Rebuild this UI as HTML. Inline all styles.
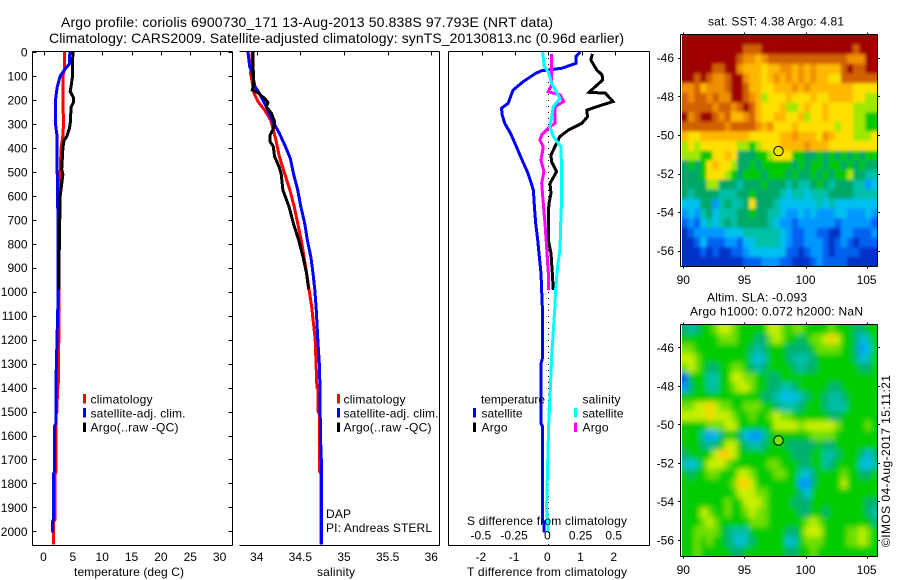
<!DOCTYPE html>
<html lang="en">
<head>
<meta charset="utf-8">
<title>Argo profile chart</title>
<style>
html,body{margin:0;padding:0;background:#fff;}
svg{display:block;}
text{font-family:"Liberation Sans",sans-serif;font-size:12px;fill:#000;}
.title{font-size:14px;}
</style>
</head>
<body>
<svg id="chart" xmlns="http://www.w3.org/2000/svg" width="900" height="580" viewBox="0 0 900 580">
  <defs>
    <clipPath id="clip-sst"><rect x="682" y="35" width="195.5" height="231.5"/></clipPath>
    <clipPath id="clip-sla"><rect x="682" y="325" width="195.5" height="231.5"/></clipPath>
    <filter id="soft-sst" filterUnits="userSpaceOnUse" x="660" y="15" width="240" height="270"><feGaussianBlur stdDeviation="1.5"/></filter>
    <filter id="soft-sla" filterUnits="userSpaceOnUse" x="660" y="305" width="240" height="270"><feGaussianBlur stdDeviation="3"/></filter>
  </defs>
  <rect x="0" y="0" width="900" height="580" fill="#fff"/>
  <g id="marks"></g>
  <g id="axes"></g>
  <g>
    <text class="title" x="61" y="27" textLength="492" lengthAdjust="spacing">Argo profile: coriolis 6900730_171 13-Aug-2013 50.838S 97.793E (NRT data)</text>
    <text class="title" x="49" y="43" textLength="575" lengthAdjust="spacing">Climatology: CARS2009. Satellite-adjusted climatology: synTS_20130813.nc (0.96d earlier)</text>
  </g>
  <g>
    <rect x="83" y="394" width="3" height="9.5" fill="#ff0000"/>
    <rect x="83" y="408" width="3" height="9.5" fill="#0000ff"/>
    <rect x="83" y="422.5" width="3" height="9.5" fill="#000"/>
    <text x="90.5" y="403.5" textLength="62" lengthAdjust="spacing">climatology</text>
    <text x="90.5" y="417.5" textLength="95" lengthAdjust="spacing">satellite-adj. clim.</text>
    <text x="90.5" y="431.5" textLength="88" lengthAdjust="spacing">Argo(..raw -QC)</text>
  </g>
  <g>
    <rect x="337" y="394" width="3" height="9.5" fill="#ff0000"/>
    <rect x="337" y="408" width="3" height="9.5" fill="#0000ff"/>
    <rect x="337" y="422.5" width="3" height="9.5" fill="#000"/>
    <text x="343.5" y="403.5" textLength="62" lengthAdjust="spacing">climatology</text>
    <text x="343.5" y="417.5" textLength="95" lengthAdjust="spacing">satellite-adj. clim.</text>
    <text x="343.5" y="431.5" textLength="88" lengthAdjust="spacing">Argo(..raw -QC)</text>
    <text x="326" y="518" textLength="25" lengthAdjust="spacing">DAP</text>
    <text x="326" y="532" textLength="106" lengthAdjust="spacing">PI: Andreas STERL</text>
  </g>
  <g>
    <text x="481" y="403.5" textLength="64" lengthAdjust="spacing">temperature</text>
    <rect x="473" y="408" width="3" height="9.5" fill="#0000ff"/>
    <rect x="473" y="422.5" width="3" height="9.5" fill="#000"/>
    <text x="481.5" y="417.5" textLength="41" lengthAdjust="spacing">satellite</text>
    <text x="481.5" y="431.5" textLength="26" lengthAdjust="spacing">Argo</text>
    <text x="582.5" y="403.5" textLength="38" lengthAdjust="spacing">salinity</text>
    <rect x="574" y="408" width="3" height="9.5" fill="#00ffff"/>
    <rect x="574" y="422.5" width="3" height="9.5" fill="#ff00ff"/>
    <text x="582.5" y="417.5" textLength="41" lengthAdjust="spacing">satellite</text>
    <text x="582.5" y="431.5" textLength="26" lengthAdjust="spacing">Argo</text>
  </g>
  <text x="74" y="576" textLength="110" lengthAdjust="spacing">temperature (deg C)</text>
  <text x="317" y="576" textLength="38" lengthAdjust="spacing">salinity</text>
  <text x="467" y="576" textLength="160" lengthAdjust="spacing">T difference from climatology</text>
  <text x="467" y="525" textLength="160" lengthAdjust="spacing">S difference from climatology</text>
  <text x="708" y="25.5" textLength="136" lengthAdjust="spacing">sat. SST: 4.38 Argo: 4.81</text>
  <text x="707" y="301.5" textLength="100" lengthAdjust="spacing">Altim. SLA: -0.093</text>
  <text x="690" y="315.5" textLength="173" lengthAdjust="spacing">Argo h1000: 0.072 h2000: NaN</text>
  <text transform="translate(890,547) rotate(-90)" x="0" y="0" textLength="172" lengthAdjust="spacing">©IMOS 04-Aug-2017 15:11:21</text>
</svg>
<script>
// ---- Axis tick values ----
const depthTicks = [0,100,200,300,400,500,600,700,800,900,1000,1100,1200,1300,1400,1500,1600,1700,1800,1900,2000];
const tempTicks = [0,5,10,15,20,25,30];
const salTicks = [34,34.5,35,35.5,36];
const salTickLabels = ['34','34.5','35','35.5','36'];
const tDiffTicks = [-2,-1,0,1,2];
const sDiffTicks = [-0.5,-0.25,0,0.25,0.5];
const sDiffTickLabels = ['-0.5','-0.25','0','0.25','0.5'];
const lonTicks = [90,95,100,105];
const latTicks = [-46,-48,-50,-52,-54,-56];

// ---- Temperature profiles ----
const tempClimDepth = [0,70,100,200,300,350,400,500,600,800,1000,1200,1400,1410,1500,1510,1750,1760,1950,1960,2055];
const tempClimValue = [3.6,3.6,3.3,3.3,3.4,3.3,3.0,2.85,2.6,2.6,2.6,2.6,2.5,2.35,2.33,2.15,2.15,2.0,2.0,1.7,1.7];
const tempSatDepth = [0,50,70,100,150,200,300,350,500,520,600,800,1000,1200,1400,1550,1560,1750,1760,1950,1960,2005];
const tempSatValue = [4.5,4.4,3.7,2.85,2.3,2.05,2.05,2.3,2.3,2.4,2.4,2.5,2.5,2.3,2.1,2.1,1.9,1.9,1.7,1.7,1.5,1.5];
const tempArgoDepth = [0,100,150,165,190,210,230,300,320,350,370,400,490,510,600,800,990];
const tempArgoValue = [5.0,4.95,4.65,4.55,5.1,5.1,4.7,4.55,4.4,4.0,3.5,3.3,3.1,3.3,2.85,2.7,2.64];

// ---- Salinity profiles ----
const salClimDepth = [0,89,172,207,242,284,367,437,506,576,645,715,784,895,1063,1200,1400,1410,1500,1510,1600,1750,1760,2055];
const salClimValue = [33.95,33.93,33.97,34.015,34.09,34.16,34.22,34.26,34.32,34.38,34.43,34.47,34.51,34.56,34.63,34.67,34.69,34.705,34.705,34.72,34.72,34.72,34.737,34.737];
const salSatDepth = [0,61,89,145,172,228,284,339,395,444,506,576,645,715,784,854,923,993,1063,1200,1300,1400,1600,1700,2055];
const salSatValue = [33.9,33.92,33.95,33.98,34.03,34.11,34.175,34.26,34.33,34.385,34.42,34.47,34.505,34.55,34.58,34.62,34.645,34.665,34.68,34.7,34.717,34.725,34.73,34.74,34.74];
const salArgoDepth = [0,75,89,145,159,170,194,211,228,256,291,319,346,374,395,437,478,506,576,645,715,784,854,923,990];
const salArgoValue = [33.96,33.96,33.965,33.96,33.95,34.015,34.09,34.13,34.11,34.17,34.205,34.19,34.155,34.155,34.19,34.205,34.255,34.28,34.3,34.37,34.42,34.48,34.53,34.57,34.595];

// ---- Differences from climatology ----
const dTSatDepth = [0,19,47,68,78,89,124,159,214,235,263,298,339,395,451,506,576,645,715,784,854,923,1063,1280,1300,1550,1560,1950,1960,2005];
const dTSatValue = [0.96,0.83,0.83,0.4,-0.2,-0.38,-0.76,-1.06,-1.21,-1.41,-1.39,-1.31,-1.14,-0.96,-0.79,-0.61,-0.45,-0.42,-0.38,-0.32,-0.27,-0.22,-0.18,-0.18,-0.22,-0.22,-0.18,-0.18,-0.14,-0.12];
const dTArgoDepth = [8,33,75,96,117,145,168,172,207,221,242,270,298,325,353,395,430,458,499,548,590,631,673,784,840,923,993];
const dTArgoValue = [1.33,1.28,1.46,1.62,1.64,1.41,1.23,1.72,1.95,1.62,1.16,1.18,1.01,0.61,0.35,0.2,0.08,0.1,0.25,0.05,0.08,0.02,0,0,0.08,0.12,0.15];
const dSArgoDepth = [8,103,138,166,179,207,228,298,315,346,367,395,451,499,548,617,715,812,923,993];
const dSArgoValue = [0.025,0.025,0.025,0,0.09,0.115,0.05,0.05,0.005,-0.05,-0.063,-0.038,-0.055,-0.033,-0.05,-0.04,-0.025,-0.013,0,0];
const dSSatDepth = [0,61,82,131,193,228,312,353,395,506,617,715,826,895,993,1063,1275,1438,1550,1730,1900,2005];
const dSSatValue = [-0.043,-0.03,0,0.025,0.088,0.038,0.013,0.038,0.096,0.1,0.1,0.093,0.088,0.07,0.055,0.05,0.025,0.013,0.003,-0.005,-0.0126,0];

// ---- Argo position ----
const argoLon = [97.793];
const argoLat = [-50.838];

// ---- Map grids (colour level per 0.5 degree cell, rows north to south) ----
const sstGrid = [
[12,12,12,12,12,12,12,12,12,12,12,12,12,12,12,12,12,12,12,12,12,12,12,12,12,12,12,12,12,12,12,12],
[12,12,12,12,12,12,12,12,12,12,11,11,11,12,12,12,12,12,12,12,12,12,12,12,12,12,12,12,11,12,12,12],
[12,12,12,12,12,12,12,12,12,11,10,10,9,10,11,11,11,11,11,11,11,11,11,11,11,11,11,10,10,10,12,12],
[12,12,12,12,12,11,11,12,12,10,9,9,9,8,9,9,10,10,9,10,9,10,9,9,9,9,11,12,11,11,12,12],
[12,12,11,12,11,10,10,11,12,12,10,9,9,8,9,10,9,10,9,10,9,10,9,9,8,8,11,11,11,11,11,11],
[10,10,11,9,10,10,10,11,12,12,11,9,9,8,8,9,9,9,10,9,10,9,9,9,9,9,9,9,8,8,8,8],
[11,10,11,11,10,11,10,10,12,12,11,10,9,7,8,8,8,9,8,8,8,9,8,8,9,9,9,9,8,8,7,7],
[11,11,11,11,11,10,11,11,10,11,12,11,9,8,8,8,9,7,7,8,9,8,8,9,8,8,8,8,7,7,7,7],
[12,10,11,12,12,11,10,11,9,9,10,11,9,8,8,9,9,8,8,9,7,8,8,9,8,8,8,8,7,7,6,6],
[11,11,11,11,11,11,11,10,11,11,11,11,10,9,10,8,8,8,9,8,8,8,8,8,8,7,8,8,7,7,6,6],
[9,8,8,9,9,9,9,9,9,9,9,8,8,8,8,8,9,9,10,9,9,9,8,10,9,8,8,8,7,7,7,8],
[7,8,7,8,8,8,8,8,8,7,7,6,7,8,8,8,9,9,9,9,10,9,9,9,8,8,8,8,8,8,8,8],
[7,7,7,6,6,8,8,9,8,5,5,5,6,6,7,8,8,8,6,6,5,5,6,5,6,5,6,5,6,5,6,6],
[5,6,5,6,8,9,8,8,7,5,5,6,5,6,6,6,6,6,5,6,5,6,6,5,6,6,5,6,5,6,5,5],
[5,5,5,6,8,8,8,7,6,5,6,6,6,5,6,6,6,5,6,5,5,6,5,6,5,6,6,7,5,5,4,4],
[5,5,5,5,7,7,5,5,5,4,5,5,5,6,5,5,5,4,5,4,4,5,6,5,4,5,5,5,4,4,2,3],
[5,4,5,5,5,5,4,4,4,5,5,6,5,5,5,5,4,3,4,4,3,4,4,4,5,5,5,5,4,4,4,4],
[3,3,3,5,5,2,4,5,4,4,5,8,5,5,5,4,3,3,3,3,3,3,4,3,4,3,3,3,3,3,3,3],
[2,3,2,4,5,3,4,4,4,5,5,6,5,5,4,4,3,2,2,3,2,3,2,2,2,3,3,2,2,2,3,2],
[1,2,1,3,4,3,4,5,4,5,5,5,5,5,4,3,2,2,1,2,2,2,2,2,2,1,2,2,2,2,2,1],
[0,1,2,2,2,2,2,3,3,3,4,4,4,4,4,4,3,2,1,1,2,2,1,1,0,0,2,2,1,1,1,2],
[0,0,1,3,1,1,1,2,2,1,3,3,4,4,4,4,3,2,1,1,2,2,2,1,0,1,2,1,0,1,1,1],
[0,0,0,1,0,1,0,0,1,1,2,3,3,3,3,3,3,1,1,0,1,2,2,1,0,1,1,1,1,0,0,0],
[0,0,0,0,0,0,0,0,0,0,1,1,1,2,2,2,1,1,0,0,0,1,2,1,1,1,1,0,0,0,0,0]
];
const slaGrid = [
[5,4,5,6,6,7,8,8,7,6,6,6,6,6,8,8,7,6,7,7,6,6,6,6,7,6,6,6,5,5,6,6],
[6,6,6,6,6,6,7,7,7,6,6,6,5,5,7,8,7,6,6,5,6,7,7,8,9,8,6,6,5,3,4,6],
[7,7,6,6,6,6,6,6,6,6,6,5,4,5,6,6,6,5,5,5,5,6,7,7,7,7,6,6,5,2,3,6],
[8,8,7,6,6,6,6,6,6,6,6,4,3,4,6,6,6,5,4,4,4,5,6,6,6,6,6,6,5,3,4,6],
[7,8,7,6,5,5,6,6,7,7,6,5,4,5,6,6,6,6,5,4,5,5,6,6,6,6,6,6,6,5,5,6],
[1,6,6,6,4,4,6,6,8,8,7,7,6,6,5,5,6,6,6,6,6,6,6,6,6,6,6,6,6,6,6,6],
[2,5,6,6,4,4,6,6,7,8,8,7,6,6,5,5,4,4,5,6,6,6,6,6,5,5,6,6,6,6,6,6],
[6,6,6,6,6,6,6,6,6,6,6,6,6,5,5,4,3,3,3,4,5,6,6,5,4,4,5,6,6,6,6,6],
[7,7,8,8,9,8,7,7,6,6,7,7,7,6,6,5,4,4,4,5,6,6,6,5,4,4,4,6,6,6,6,6],
[8,8,8,8,9,8,8,8,7,6,6,7,6,6,7,8,7,7,6,6,6,6,6,6,5,5,6,6,6,6,6,6],
[6,6,6,6,7,7,7,8,8,6,6,6,6,6,6,8,8,8,8,7,8,8,8,8,8,7,6,6,6,6,7,6],
[6,6,6,4,2,3,5,6,6,5,3,2,2,4,6,6,6,6,6,6,6,7,7,7,7,6,6,6,6,6,6,6],
[6,6,6,5,4,5,6,8,8,6,5,4,4,5,6,6,6,5,5,5,5,5,6,5,5,6,6,6,6,6,6,6],
[5,6,6,6,6,8,9,9,8,6,6,6,6,6,6,6,6,6,5,5,5,6,6,4,4,5,6,6,6,5,3,5],
[4,3,4,6,8,8,8,7,6,6,6,6,6,6,7,7,6,6,6,5,5,6,6,4,5,6,6,6,6,3,3,4],
[6,5,6,6,7,7,6,6,6,8,8,7,6,6,6,7,7,6,6,4,3,5,6,6,6,6,7,6,6,5,5,6],
[6,6,6,6,6,6,6,6,7,9,9,8,6,6,6,6,6,6,6,2,2,5,6,6,6,6,8,6,6,6,6,6],
[6,6,6,6,6,6,6,6,6,8,8,8,7,7,6,6,6,6,6,5,3,6,6,6,6,6,6,6,6,6,6,6],
[6,6,6,6,6,6,6,7,6,6,8,8,8,7,6,6,6,6,5,5,5,6,6,6,6,6,6,6,6,6,5,5],
[6,6,6,8,7,6,6,7,6,6,7,8,7,7,6,6,6,6,6,5,5,6,6,5,6,6,6,6,6,6,5,4],
[6,6,6,7,8,7,6,6,6,6,6,7,7,7,6,6,6,6,6,6,7,8,7,6,6,6,6,6,6,6,6,5],
[6,6,7,7,7,7,6,5,4,4,4,6,6,6,6,6,6,5,5,6,8,8,8,6,6,6,6,7,7,8,7,6],
[6,6,7,6,7,6,6,5,4,3,4,5,6,6,6,6,6,3,4,6,7,7,7,6,6,6,6,7,7,8,7,6],
[6,6,7,6,6,6,6,6,5,5,6,6,6,6,6,6,6,5,5,6,6,7,6,6,6,6,6,6,6,6,6,6]
];
const sstColours = ['#0030c8','#0060f0','#0098ff','#00c0f0','#00c0a8','#00a868','#00c800','#a0e800','#ffe000','#ffb800','#f09000','#d06000','#a00000'];
const slaColours = ['#0030c8','#0060f0','#0098ff','#00c0e8','#00c0a8','#00b070','#00cc00','#70e000','#c8f000','#ffd000','#f09000','#d06000','#a00000'];

// ---- Helpers ----
const NS = 'http://www.w3.org/2000/svg';
const marks = document.getElementById('marks');
const axes = document.getElementById('axes');

function depthY(d){ return 52 + d * 0.2397; }
function tempX(v){ return 43.5 + v * 5.87; }
function salX(v){ return 256.7 + (v - 34) * 87.3; }
function tDiffX(v){ return 548.3 + v * 33.2; }
function sDiffX(v){ return 548.3 + v * 132.8; }
function lonX(v){ return 683.3 + (v - 90) * 12.22; }
function latSstY(v){ return 57.7 + (-46 - v) * 19.3; }
function latSlaY(v){ return 347.3 + (-46 - v) * 19.27; }

function makeLine(parent, x1, y1, x2, y2, name){
  const el = document.createElementNS(NS, 'line');
  el.setAttribute('x1', x1); el.setAttribute('y1', y1);
  el.setAttribute('x2', x2); el.setAttribute('y2', y2);
  el.setAttribute('stroke', '#000');
  el.setAttribute('stroke-width', '1');
  el.setAttribute('shape-rendering', 'crispEdges');
  
  
  parent.appendChild(el);
  return el;
}
function makeText(parent, x, y, str, anchor, name){
  const el = document.createElementNS(NS, 'text');
  el.setAttribute('x', x); el.setAttribute('y', y);
  el.setAttribute('text-anchor', anchor);
  el.textContent = str;
  
  
  parent.appendChild(el);
  return el;
}
function makeProfile(depths, values, xFn, colour, name){
  const el = document.createElementNS(NS, 'polyline');
  el.setAttribute('points', depths.map((d, i) => xFn(values[i]).toFixed(1) + ',' + depthY(d).toFixed(1)).join(' '));
  el.setAttribute('fill', 'none');
  el.setAttribute('stroke', colour);
  el.setAttribute('stroke-width', '3');
  el.setAttribute('stroke-linejoin', 'miter');
  el.setAttribute('shape-rendering', 'crispEdges');
  
  
  marks.appendChild(el);
}
function makeGroup(parent, name){
  const el = document.createElementNS(NS, 'g');
  
  
  parent.appendChild(el);
  return el;
}

// ---- Series ----
const zeroLine = makeLine(marks, 548.5, 52, 548.5, 545, 'zero-difference-line');
zeroLine.setAttribute('stroke-dasharray', '1 5');

makeProfile(tempClimDepth, tempClimValue, tempX, '#ff0000', 'temperature-climatology-line');
makeProfile(tempSatDepth, tempSatValue, tempX, '#0000ff', 'temperature-satellite-line');
makeProfile(tempArgoDepth, tempArgoValue, tempX, '#000000', 'temperature-argo-line');

makeProfile(salClimDepth, salClimValue, salX, '#ff0000', 'salinity-climatology-line');
makeProfile(salSatDepth, salSatValue, salX, '#0000ff', 'salinity-satellite-line');
makeProfile(salArgoDepth, salArgoValue, salX, '#000000', 'salinity-argo-line');

makeProfile(dTSatDepth, dTSatValue, tDiffX, '#0000ff', 't-difference-satellite-line');
makeProfile(dTArgoDepth, dTArgoValue, tDiffX, '#000000', 't-difference-argo-line');
makeProfile(dSArgoDepth, dSArgoValue, sDiffX, '#ff00ff', 's-difference-argo-line');
makeProfile(dSSatDepth, dSSatValue, sDiffX, '#00ffff', 's-difference-satellite-line');

// ---- Profile panel frames and ticks ----
const axisGroup1 = makeGroup(axes, 'temperature-axes');
makeLine(axisGroup1, 32.5, 51.5, 232.5, 51.5, 'temperature-top-border');
makeLine(axisGroup1, 32.5, 545.5, 232.5, 545.5, 'temperature-bottom-border');
makeLine(axisGroup1, 32.5, 51.5, 32.5, 545.5, 'temperature-left-border');
makeLine(axisGroup1, 232.5, 51.5, 232.5, 545.5, 'temperature-right-border');
depthTicks.forEach(d => {
  const y = Math.round(depthY(d)) + 0.5;
  makeLine(axisGroup1, 32.5, y, 36.5, y, 'depth-tick-left');
  makeLine(axisGroup1, 228.5, y, 232.5, y, 'depth-tick-right');
  makeText(axisGroup1, 27.5, depthY(d) + 4.5, String(d), 'end', 'depth-tick-label');
});
tempTicks.forEach(v => {
  const x = Math.round(tempX(v)) + 0.5;
  makeLine(axisGroup1, x, 51.5, x, 55.5, 'temperature-tick');
  makeText(axisGroup1, tempX(v), 561, String(v), 'middle', 'temperature-tick-label');
});

const axisGroup2 = makeGroup(axes, 'salinity-axes');
makeLine(axisGroup2, 239.5, 51.5, 439.5, 51.5, 'salinity-top-border');
makeLine(axisGroup2, 239.5, 545.5, 439.5, 545.5, 'salinity-bottom-border');
makeLine(axisGroup2, 439.5, 51.5, 439.5, 545.5, 'salinity-right-border');
salTicks.forEach((v, i) => {
  const x = Math.round(salX(v)) + 0.5;
  makeLine(axisGroup2, x, 51.5, x, 55.5, 'salinity-tick');
  makeText(axisGroup2, salX(v), 561, salTickLabels[i], 'middle', 'salinity-tick-label');
});

const axisGroup3 = makeGroup(axes, 'difference-axes');
makeLine(axisGroup3, 448.5, 51.5, 649.5, 51.5, 'difference-top-border');
makeLine(axisGroup3, 448.5, 545.5, 649.5, 545.5, 'difference-bottom-border');
makeLine(axisGroup3, 448.5, 51.5, 448.5, 545.5, 'difference-left-border');
makeLine(axisGroup3, 649.5, 51.5, 649.5, 545.5, 'difference-right-border');
tDiffTicks.forEach(v => {
  const x = Math.round(tDiffX(v)) + 0.5;
  makeLine(axisGroup3, x, 51.5, x, 55.5, 't-difference-tick');
  makeText(axisGroup3, tDiffX(v) - 1, 561, String(v), 'middle', 't-difference-tick-label');
});
sDiffTicks.forEach((v, i) => {
  makeText(axisGroup3, sDiffX(v) - 1, 539.5, sDiffTickLabels[i], 'middle', 's-difference-tick-label');
});

// ---- Maps ----
function drawMap(grid, palette, latY, clipId, filterId, top, bottom, titleName, markerFill){
  const outer = makeGroup(marks, titleName);
  const clipped = makeGroup(outer, titleName + '-cells');
  clipped.setAttribute('clip-path', 'url(#' + clipId + ')');
  const blurred = makeGroup(clipped, titleName + '-raster');
  blurred.setAttribute('filter', 'url(#' + filterId + ')');
  const lon0 = 89.89, lat0 = -44.82, step = 0.5;
  grid.forEach((row, r) => {
    row.forEach((level, c) => {
      let x1 = lonX(lon0 + c * step), x2 = lonX(lon0 + (c + 1) * step);
      let y1 = latY(lat0 - r * step), y2 = latY(lat0 - (r + 1) * step);
      if (c === 0) x1 -= 12;
      if (c === row.length - 1) x2 += 12;
      if (r === 0) y1 -= 12;
      if (r === grid.length - 1) y2 += 12;
      const cell = document.createElementNS(NS, 'rect');
      cell.setAttribute('x', x1.toFixed(2));
      cell.setAttribute('y', y1.toFixed(2));
      cell.setAttribute('width', (x2 - x1 + 0.3).toFixed(2));
      cell.setAttribute('height', (y2 - y1 + 0.3).toFixed(2));
      cell.setAttribute('fill', palette[level]);
      
      
      blurred.appendChild(cell);
    });
  });
  makeLine(outer, 680.5, top, 877.5, top, titleName + '-top-border');
  makeLine(outer, 680.5, bottom, 877.5, bottom, titleName + '-bottom-border');
  makeLine(outer, 680.5, top, 680.5, bottom, titleName + '-left-border');
  makeLine(outer, 877.5, top, 877.5, bottom, titleName + '-right-border');
  lonTicks.forEach(v => {
    const x = Math.round(lonX(v)) + 0.5;
    makeLine(outer, x, top - 2, x, top, 'longitude-tick-top');
    makeLine(outer, x, bottom, x, bottom + 2, 'longitude-tick-bottom');
    makeText(outer, lonX(v), bottom + 17.5, String(v), 'middle', 'longitude-tick-label');
  });
  latTicks.forEach(v => {
    const y = Math.round(latY(v)) + 0.5;
    makeLine(outer, 678, y, 680.5, y, 'latitude-tick-left');
    makeLine(outer, 877.5, y, 880, y, 'latitude-tick-right');
    makeText(outer, 674, latY(v) + 4.5, String(v), 'end', 'latitude-tick-label');
  });
  const dot = document.createElementNS(NS, 'circle');
  dot.setAttribute('cx', lonX(argoLon[0]).toFixed(1));
  dot.setAttribute('cy', latY(argoLat[0]).toFixed(1));
  dot.setAttribute('r', '4.7');
  dot.setAttribute('fill', markerFill);
  dot.setAttribute('stroke', '#000');
  dot.setAttribute('stroke-width', '1');
  
  
  outer.appendChild(dot);
}
drawMap(sstGrid, sstColours, latSstY, 'clip-sst', 'soft-sst', 34.5, 266.5, 'sst-map', '#e8e800');
drawMap(slaGrid, slaColours, latSlaY, 'clip-sla', 'soft-sla', 324.5, 556.5, 'sla-map', '#80e000');
</script>
</body>
</html>
